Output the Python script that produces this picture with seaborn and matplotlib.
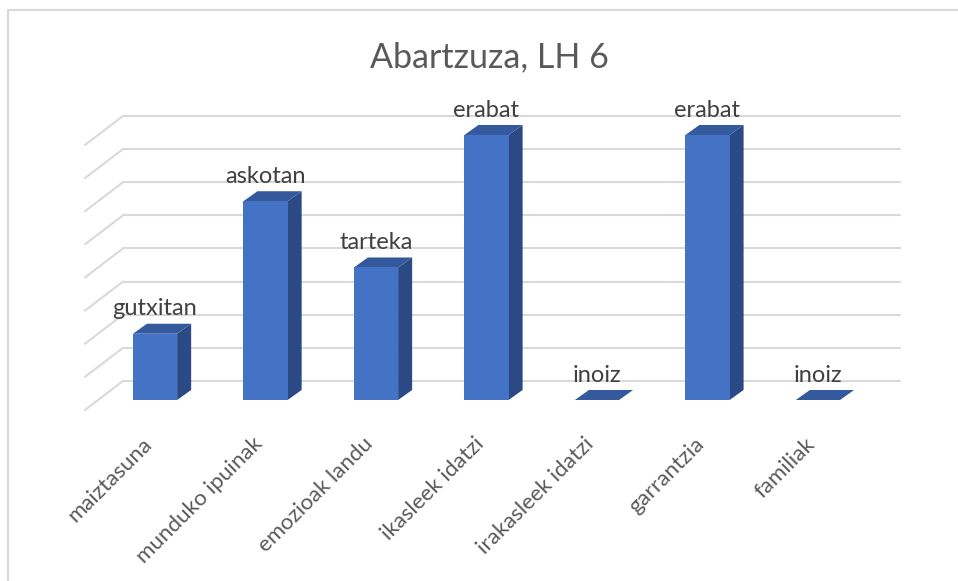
import matplotlib
matplotlib.use("Agg")
import matplotlib.pyplot as plt
import pandas as pd
import seaborn as sns
from matplotlib.lines import Line2D
from matplotlib.patches import Polygon
from matplotlib.transforms import ScaledTranslation

# chart data
categories = ["maiztasuna", "munduko ipuinak", "emozioak landu", "ikasleek idatzi",
              "irakasleek idatzi", "garrantzia", "familiak"]
values = [1, 3, 2, 4, 0, 4, 0]
answers = ["gutxitan", "askotan", "tarteka", "erabat", "inoiz", "erabat", "inoiz"]
grid_levels = [0, 0.5, 1, 1.5, 2, 2.5, 3, 3.5, 4]

# colours
FRONT = "#4472C4"
SIDE = "#2B4A85"
TOP = "#34599C"
GRID = "#D9D9D9"
TEXT = "#595959"

# fake 3d offsets, in data units
BAR_DX, BAR_DY = 0.127, 0.151
WALL_DX, WALL_DY = 0.226, 0.287
FLOOR_DX, FLOOR_DY = -0.118, -0.151

sns.set_style("white")
plt.rcParams["font.family"] = ["Lato", "DejaVu Sans"]

fig = plt.figure(figsize=(9.58, 5.81), dpi=100)
W, H = 958, 581
ax = fig.add_axes([80 / W, 1 - 420 / H, 830 / W, 320 / H])
sns.despine(ax=ax, left=True, bottom=True)

# back wall gridlines + side floor diagonals
wall_left, wall_right = -0.29, 6.742
for g in grid_levels:
    ax.plot([wall_left, wall_right], [g + WALL_DY, g + WALL_DY], color=GRID, lw=1.5, zorder=0)
    ax.plot([wall_left, wall_left - WALL_DX + FLOOR_DX], [g + WALL_DY, g + FLOOR_DY],
            color=GRID, lw=1.5, zorder=0)

df = pd.DataFrame({"item": categories, "value": values})
sns.barplot(data=df, x="item", y="value", color=FRONT, saturation=1, width=0.4,
            linewidth=0, ax=ax, zorder=3)
ax.set_xlim(-0.679, 6.833)
ax.set_ylim(-0.302, 4.528)

for bar, txt in zip(ax.patches, answers):
    x0, w, h = bar.get_x(), bar.get_width(), bar.get_height()
    side = [(x0 + w, 0), (x0 + w + BAR_DX, BAR_DY), (x0 + w + BAR_DX, h + BAR_DY), (x0 + w, h)]
    top = [(x0, h), (x0 + BAR_DX, h + BAR_DY), (x0 + w + BAR_DX, h + BAR_DY), (x0 + w, h)]
    ax.add_patch(Polygon(side, closed=True, color=SIDE, lw=0, zorder=2))
    ax.add_patch(Polygon(top, closed=True, color=TOP, lw=0, zorder=2))
    ax.annotate(txt, (x0 + w / 2, h + BAR_DY), xytext=(0, 6), textcoords="offset points",
                ha="center", va="baseline", fontsize=17, color="#404040")

ax.set_xlabel("")
ax.set_ylabel("")
ax.set_yticks([])
ax.set_xticks(range(len(categories)))
ax.set_xticklabels(categories, rotation=45, ha="right", va="center",
                   rotation_mode="anchor", fontsize=16, color=TEXT)
ax.tick_params(axis="x", length=0, pad=15)
shift = ScaledTranslation(-6 / 100, 0, fig.dpi_scale_trans)
for lab in ax.get_xticklabels():
    lab.set_transform(lab.get_transform() + shift)

fig.text(489 / W, 1 - 57 / H, "Abartzuza, LH 6", ha="center", va="center",
         fontsize=24.5, color=TEXT)

# chart area border (only left and top visible in the crop)
fig.add_artist(Line2D([8 / W, 8 / W], [0, 1 - 10 / H], color=GRID, lw=1.5))
fig.add_artist(Line2D([8 / W, 1], [1 - 10 / H, 1 - 10 / H], color=GRID, lw=1.5))

fig.savefig("out.png", dpi=100)
